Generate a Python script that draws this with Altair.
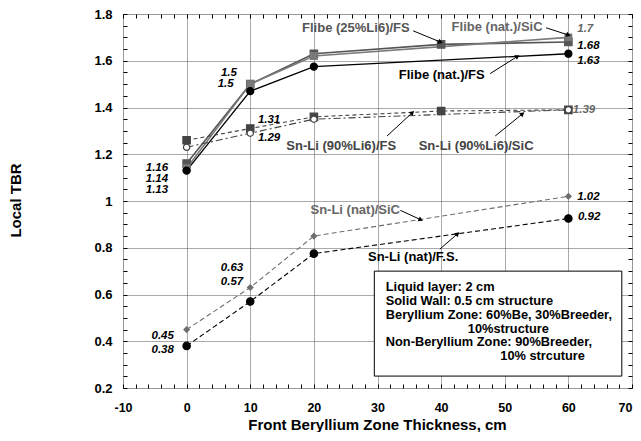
import math
import altair as alt
import pandas as pd

# ---------------- data ----------------
flibe25_fs_x = [0, 10, 20, 40, 60]
flibe25_fs_y = [1.16, 1.50, 1.63, 1.67, 1.68]
flibe_nat_sic_x = [0, 10, 20, 60]
flibe_nat_sic_y = [1.14, 1.50, 1.62, 1.70]
flibe_nat_fs_x = [0, 10, 20, 60]
flibe_nat_fs_y = [1.13, 1.47, 1.575, 1.63]
snli90_sic_x = [0, 10, 20, 40, 60]
snli90_sic_y = [1.26, 1.31, 1.36, 1.385, 1.39]
snli90_fs_x = [0, 10, 20, 60]
snli90_fs_y = [1.23, 1.29, 1.35, 1.39]
snli_nat_sic_x = [0, 10, 20, 60]
snli_nat_sic_y = [0.45, 0.63, 0.85, 1.02]
snli_nat_fs_x = [0, 10, 20, 60]
snli_nat_fs_y = [0.38, 0.57, 0.775, 0.925]

x_major = [-10, 0, 10, 20, 30, 40, 50, 60, 70]
y_major = [0.2, 0.4, 0.6, 0.8, 1.0, 1.2, 1.4, 1.6, 1.8]
x_minor = [-10 + 2 * i for i in range(41)]
y_minor = [round(0.2 + 0.05 * i, 2) for i in range(33)]

# value labels left of the points (right aligned)
vl_left_text = ["1.16", "1.14", "1.13", "1.5", "1.5", "0.63", "0.57", "0.45", "0.38"]
# value labels right of the points (left aligned)
vl_right_text = ["1.31", "1.29", "1.7", "1.68", "1.63", "1.39", "1.02", "0.92"]

# series labels
series_label_text = ["Flibe (25%Li6)/FS", "Flibe (nat.)/SiC", "Flibe (nat.)/FS",
                     "Sn-Li (90%Li6)/FS", "Sn-Li (90%Li6)/SiC",
                     "Sn-Li (nat)/SiC", "Sn-Li (nat)/F.S."]

note_text = ["Liquid layer: 2 cm", "Solid Wall: 0.5 cm structure",
             "Beryllium Zone: 60%Be, 30%Breeder,", "10%structure",
             "Non-Beryllium Zone: 90%Breeder,", "10% strcuture"]

# ---------------- annotation placement (data units) ----------------
vl_left_x = [-2.9, -2.9, -2.9, 7.9, 7.4, 8.9, 8.9, -2.0, -2.0]
vl_left_y = [1.140, 1.094, 1.046, 1.547, 1.502, 0.713, 0.654, 0.421, 0.361]
vl_left_color = ["#000"] * 9
vl_right_x = [11.2, 11.2, 61.4, 61.4, 61.4, 60.7, 61.4, 61.5]
vl_right_y = [1.346, 1.269, 1.736, 1.664, 1.600, 1.388, 1.019, 0.930]
vl_right_color = ["#000", "#000", "#666", "#000", "#000", "#666", "#000", "#000"]

series_label_x = [26.6, 48.8, 40.1, 24.3, 45.5, 26.5, 35.6]
series_label_y = [1.741, 1.745, 1.537, 1.235, 1.235, 0.960, 0.760]
series_label_color = ["#555", "#666", "#000", "#444", "#444", "#666", "#000"]

arrow_x1 = [35.6, 56.5, 47.7, 31.5, 48.5, 33.6, 39.8]
arrow_y1 = [1.728, 1.741, 1.545, 1.278, 1.278, 0.960, 0.794]
arrow_x2 = [39.8, 59.9, 51.9, 35.4, 52.7, 36.7, 42.5]
arrow_y2 = [1.681, 1.711, 1.617, 1.376, 1.371, 0.921, 0.858]

box_x = [29.5, 68.4]
box_y = [0.251, 0.70]
note_x = [31.3, 31.3, 31.3, 44.2, 31.3, 49.3]
note_y = [0.633, 0.573, 0.514, 0.454, 0.395, 0.336]

# ---------------- chart ----------------
FONT = "Liberation Sans"
W, H = 509, 374
XDOM = [-10, 70]
YDOM = [0.2, 1.8]
xs = alt.Scale(domain=XDOM, nice=False, zero=False)
ys = alt.Scale(domain=YDOM, nice=False, zero=False)


def df_xy(xv, yv):
    return pd.DataFrame({"x": xv, "y": yv})


main_x_axis = alt.Axis(
    orient="bottom", values=x_major, labelExpr="'' + datum.value",
    title="Front Beryllium Zone Thickness, cm", grid=True, gridColor="#555",
    gridDash=[1, 1], gridWidth=1, ticks=False, domain=False,
    labelFont=FONT, labelFontSize=12.5, labelFontWeight="bold", labelColor="#000",
    labelAlign={"condition": {"test": "datum.value == 70", "value": "right"},
                "value": "center"},
    labelPadding=13, labelFlush=False, labelOverlap=False,
    titleFont=FONT, titleFontSize=15, titleFontWeight="bold", titleColor="#000",
    titleX=254, titleY=36, titleBaseline="middle", titleAlign="center")
main_y_axis = alt.Axis(
    orient="left", values=y_major, labelExpr="'' + datum.value",
    title="Local TBR", grid=True, gridColor="#555", gridDash=[1, 1], gridWidth=1,
    ticks=False, domain=False,
    labelFont=FONT, labelFontSize=13, labelFontWeight="bold", labelColor="#000",
    labelPadding=11, labelFlush=False, labelOverlap=False,
    titleFont=FONT, titleFontSize=15, titleFontWeight="bold", titleColor="#000",
    titleAngle=270, titleX=-108, titleY=186, titleBaseline="middle", titleAlign="center")

tick_common = dict(labels=False, ticks=True, tickSize=4, tickColor="#000",
                   tickWidth=1, domain=False, grid=False, title="")
ax_left_in = alt.Axis(orient="right", offset=-W, values=y_minor, **tick_common)
ax_right_in = alt.Axis(orient="left", offset=-W, values=y_minor, **tick_common)
ax_bottom_in = alt.Axis(orient="top", offset=-H, values=x_minor, **tick_common)
ax_top_in = alt.Axis(orient="bottom", offset=-H, values=x_minor, **tick_common)

series = [
    # xv, yv, color, width, dash, shape, size, fill
    (flibe25_fs_x, flibe25_fs_y, "#555555", 1.6, None, "square", 55, "#555555"),
    (flibe_nat_sic_x, flibe_nat_sic_y, "#7a7a7a", 1.6, None, "square", 45, "#7a7a7a"),
    (flibe_nat_fs_x, flibe_nat_fs_y, "#000000", 1.3, None, "circle", 50, "#000000"),
    (snli90_sic_x, snli90_sic_y, "#444444", 1.1, [4, 3], "square", 55, "#444444"),
    (snli90_fs_x, snli90_fs_y, "#444444", 1.1, [7, 3, 2, 3], "circle", 40, "#ffffff"),
    (snli_nat_sic_x, snli_nat_sic_y, "#6e6e6e", 1.1, [5, 3], "diamond", 30, "#6e6e6e"),
    (snli_nat_fs_x, snli_nat_fs_y, "#000000", 1.1, [5, 3], "circle", 55, "#000000"),
]

axis_sets = [
    (main_x_axis, main_y_axis),
    (ax_bottom_in, ax_left_in),
    (ax_top_in, ax_right_in),
]

layers = []
for i, (xv, yv, col, sw, dash, shape, size, fill) in enumerate(series):
    if i < len(axis_sets):
        xa, ya = axis_sets[i]
    else:
        xa, ya = None, None
    line_kw = dict(color=col, strokeWidth=sw)
    if dash is not None:
        line_kw["strokeDash"] = dash
    layers.append(
        alt.Chart(df_xy(xv, yv)).mark_line(**line_kw).encode(
            x=alt.X("x:Q", scale=xs, axis=xa),
            y=alt.Y("y:Q", scale=ys, axis=ya)))

# box (drawn over grid, under points/text)
box_df = pd.DataFrame({"x": [box_x[0]], "x2": [box_x[1]], "y": [box_y[0]], "y2": [box_y[1]]})
layers.append(
    alt.Chart(box_df).mark_rect(fill="#ffffff", stroke="#000", strokeWidth=1).encode(
        x=alt.X("x:Q", scale=xs, axis=None), x2="x2:Q",
        y=alt.Y("y:Q", scale=ys, axis=None), y2="y2:Q"))

for (xv, yv, col, sw, dash, shape, size, fill) in series:
    layers.append(
        alt.Chart(df_xy(xv, yv)).mark_point(
            shape=shape, size=size, filled=True, fill=fill, stroke=col,
            strokeWidth=1.2, opacity=1).encode(
            x=alt.X("x:Q", scale=xs, axis=None),
            y=alt.Y("y:Q", scale=ys, axis=None)))

# arrows
px_per_x = W / (XDOM[1] - XDOM[0])
px_per_y = H / (YDOM[1] - YDOM[0])
angles = []
for a, b, c, d in zip(arrow_x1, arrow_y1, arrow_x2, arrow_y2):
    dx = (c - a) * px_per_x
    dy = -(d - b) * px_per_y
    angles.append(math.degrees(math.atan2(dx, -dy)) % 360)
arrow_df = pd.DataFrame({"x": arrow_x1, "y": arrow_y1, "x2": arrow_x2,
                         "y2": arrow_y2, "angle": angles})
layers.append(
    alt.Chart(arrow_df).mark_rule(color="#000", strokeWidth=1).encode(
        x=alt.X("x:Q", scale=xs, axis=None), x2="x2:Q",
        y=alt.Y("y:Q", scale=ys, axis=None), y2="y2:Q"))
layers.append(
    alt.Chart(arrow_df).mark_point(shape="triangle", size=28, filled=True,
                                   color="#000", opacity=1).encode(
        x=alt.X("x2:Q", scale=xs, axis=None),
        y=alt.Y("y2:Q", scale=ys, axis=None),
        angle=alt.Angle("angle:Q", scale=None)))

# value labels
vl_left_df = pd.DataFrame({"x": vl_left_x, "y": vl_left_y, "t": vl_left_text, "c": vl_left_color})
vl_right_df = pd.DataFrame({"x": vl_right_x, "y": vl_right_y, "t": vl_right_text, "c": vl_right_color})
for d, al in ((vl_left_df, "right"), (vl_right_df, "left")):
    layers.append(
        alt.Chart(d).mark_text(font=FONT, fontSize=11.5, fontWeight="bold",
                               fontStyle="italic", align=al, baseline="middle").encode(
            x=alt.X("x:Q", scale=xs, axis=None),
            y=alt.Y("y:Q", scale=ys, axis=None),
            text="t:N", color=alt.Color("c:N", scale=None)))

# series labels
sl_df = pd.DataFrame({"x": series_label_x, "y": series_label_y,
                      "t": series_label_text, "c": series_label_color})
layers.append(
    alt.Chart(sl_df).mark_text(font=FONT, fontSize=13, fontWeight="bold",
                               align="center", baseline="middle").encode(
        x=alt.X("x:Q", scale=xs, axis=None),
        y=alt.Y("y:Q", scale=ys, axis=None),
        text="t:N", color=alt.Color("c:N", scale=None)))

# note text
note_df = pd.DataFrame({"x": note_x, "y": note_y, "t": note_text})
layers.append(
    alt.Chart(note_df).mark_text(font=FONT, fontSize=12.8, fontWeight="bold",
                                 align="left", baseline="middle", color="#000").encode(
        x=alt.X("x:Q", scale=xs, axis=None),
        y=alt.Y("y:Q", scale=ys, axis=None),
        text="t:N"))

chart = alt.layer(*layers).resolve_axis(
    x="independent", y="independent"
).properties(
    width=W, height=H,
    autosize=alt.AutoSizeParams(type="none"),
    padding={"left": 115, "top": 6, "right": 1, "bottom": 44},
).configure_view(stroke="#000", strokeWidth=1).configure(font=FONT)

chart.save("out.html", embed_options={"renderer": "svg", "actions": False})
